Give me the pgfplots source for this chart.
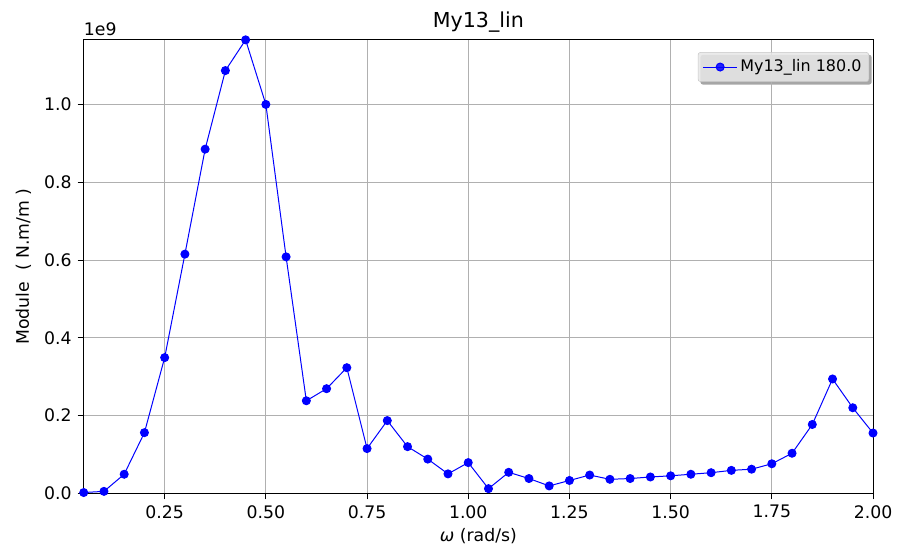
\documentclass[border=0pt]{standalone}
\usepackage{pgfplots}
\pgfplotsset{compat=1.18}
\usepackage{fontspec}
\setmainfont{DejaVu Sans}
\definecolor{gridgray}{HTML}{B0B0B0}
\pgfdeclarelayer{bg}
\pgfsetlayers{bg,main}
\begin{document}
\fontsize{13pt}{15pt}\selectfont
\begin{tikzpicture}
\begin{axis}[
  scale only axis,
  width=594pt, height=341.25pt,
  xmin=0.05, xmax=2.0, ymin=0, ymax=1.166,
  xtick={0.25,0.5,0.75,1.0,1.25,1.5,1.75,2.0},
  ytick={0,0.2,0.4,0.6,0.8,1.0},
  xticklabel style={/pgf/number format/.cd,fixed,fixed zerofill,precision=2},
  yticklabel style={/pgf/number format/.cd,fixed,fixed zerofill,precision=1},
  /pgf/number format/assume math mode=true,
  tick align=outside, tick pos=left,
  major tick length=4.5pt,
  every tick/.style={black, line width=0.6pt},
  axis line style={line width=0.6pt},
  grid=major,
  major grid style={gridgray, line width=0.6pt},
  title={My13\_lin},
  title style={font=\fontsize{15.5pt}{18pt}\selectfont, yshift=-5pt},
  xlabel={\textit{ω} (rad/s)},
  ylabel={Module\ \ ( N.m/m )},
  xlabel style={yshift=1pt},
  ylabel style={yshift=1pt},
  legend style={name=leg, font=\fontsize{12pt}{14pt}\selectfont, fill=white!91!black, fill opacity=0.85, text opacity=1, draw=gray!45, rounded corners=2pt, at={(0.995,0.973)}, anchor=north east, inner sep=3.5pt},
  legend image code/.code={\draw[mark repeat=2,mark phase=2,#1] plot coordinates {(0cm,0cm)(0.45cm,0cm)(0.9cm,0cm)};},
  legend cell align=left,
  clip=false,
]
\addplot[blue, line width=0.75pt, mark=*, mark size=3pt, mark options={fill=blue, draw=blue}] table {
x y
0.05 0.002
0.10 0.005
0.15 0.049
0.20 0.156
0.25 0.349
0.30 0.615
0.35 0.885
0.40 1.087
0.45 1.166
0.50 1.000
0.55 0.608
0.60 0.238
0.65 0.269
0.70 0.323
0.75 0.115
0.80 0.187
0.85 0.120
0.90 0.088
0.95 0.050
1.00 0.079
1.05 0.012
1.10 0.054
1.15 0.038
1.20 0.019
1.25 0.033
1.30 0.047
1.35 0.036
1.40 0.038
1.45 0.042
1.50 0.045
1.55 0.049
1.60 0.053
1.65 0.059
1.70 0.062
1.75 0.076
1.80 0.103
1.85 0.177
1.90 0.294
1.95 0.220
2.00 0.155
};
\addlegendentry{My13\_lin 180.0}
\coordinate (sw) at (rel axis cs:0,0);
\coordinate (ne) at (rel axis cs:1,1);
\node[anchor=south west, inner sep=0pt] at ([yshift=3pt]rel axis cs:0,1) {1e9};
\end{axis}
\begin{pgfonlayer}{bg}
\fill[gray!70, rounded corners=2pt] ([xshift=2pt,yshift=-2pt]leg.south west) rectangle ([xshift=2pt,yshift=-2pt]leg.north east);
\end{pgfonlayer}
\path[use as bounding box] ([xshift=-63pt,yshift=-43.5pt]sw) rectangle ([xshift=16.5pt,yshift=30pt]ne);
\end{tikzpicture}
\end{document}
